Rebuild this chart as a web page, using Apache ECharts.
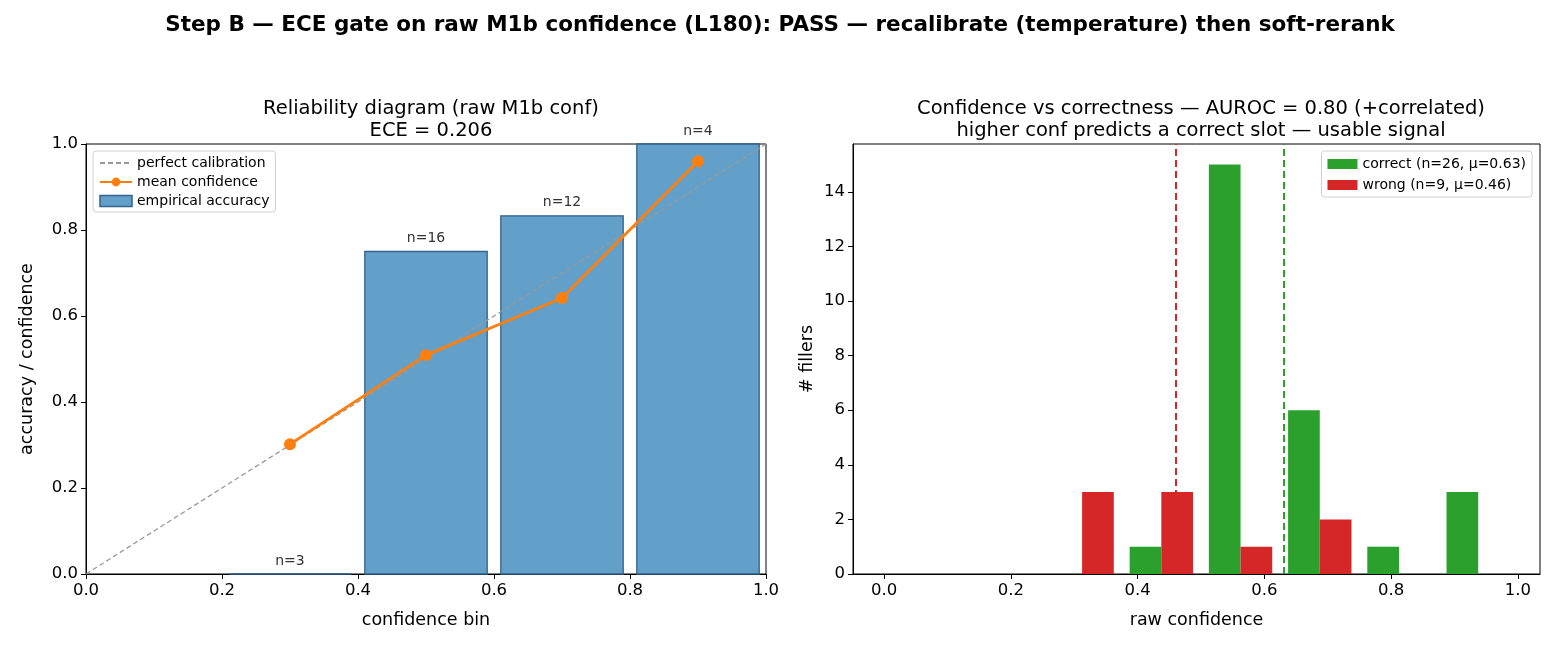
<!DOCTYPE html>
<html>
<head>
<meta charset="utf-8">
<script src="https://cdn.jsdelivr.net/npm/echarts@6/dist/echarts.min.js"></script>
<style>
  html, body { margin: 0; padding: 0; background: #fff; }
  #main { width: 1560px; height: 650px; }
</style>
</head>
<body>
<div id="main"></div>
<script>
// reliability diagram (left)
var binCenters = [0.3, 0.5, 0.7, 0.9];
var accuracy = [0.0, 0.75, 0.833, 1.0];
var meanConf = [0.302, 0.509, 0.642, 0.96];
var binCounts = [3, 16, 12, 4];
var diag = [0, 1];

// confidence histogram (right)
var histEdges = [0, 0.125, 0.25, 0.375, 0.5, 0.625, 0.75, 0.875, 1.0];
var correctCounts = [0, 0, 0, 1, 15, 6, 1, 3];
var wrongCounts = [0, 0, 3, 3, 1, 2, 0, 0];
var meanCorrect = 0.633;
var meanWrong = 0.462;
var ticks01 = [0, 0.2, 0.4, 0.6, 0.8, 1.0];

var FONT = 'DejaVu Sans';
var GREEN = '#2ca02c', RED = '#d62728', ORANGE = '#ff7f0e';
var BAR_FILL = '#62a0ca', BAR_EDGE = '#33628a';

var myChart = echarts.init(document.getElementById('main'));

function histSeries(name, counts, color, side, mu) {
  var data = [];
  for (var i = 0; i < counts.length; i++) {
    var c = (histEdges[i] + histEdges[i + 1]) / 2;
    data.push([c, counts[i]]);
  }
  return {
    name: name,
    type: 'custom',
    xAxisIndex: 1, yAxisIndex: 1,
    itemStyle: { color: color },
    renderItem: function (params, api) {
      var c = api.value(0), n = api.value(1);
      if (!n) return null;
      var w = (histEdges[1] - histEdges[0]) * 0.4;  // two bars fill 80% of the bin
      var xa = side < 0 ? c - w : c;
      var p0 = api.coord([xa, n]);
      var p1 = api.coord([xa + w, 0]);
      return {
        type: 'rect',
        shape: { x: p0[0], y: p0[1], width: p1[0] - p0[0], height: p1[1] - p0[1] },
        style: { fill: color }
      };
    },
    data: data,
    markLine: {
      silent: true,
      symbol: ['none', 'none'],
      label: { show: false },
      lineStyle: { color: color, type: [7, 4], width: 2 },
      data: [{ xAxis: mu }]
    }
  };
}

var axisCommon = {
  axisLine: { show: true, onZero: false, lineStyle: { color: '#000', width: 1 } },
  axisTick: { show: true, length: 5, lineStyle: { color: '#000' } },
  axisLabel: { color: '#000', fontSize: 16.5, margin: 8, fontFamily: FONT },
  splitLine: { show: false },
  nameTextStyle: { color: '#000', fontSize: 17.5, fontFamily: FONT }
};

var option = {
  backgroundColor: '#fff',
  animation: false,
  textStyle: { fontFamily: FONT },
  title: [
    {
      text: 'Step B — ECE gate on raw M1b confidence (L180): PASS — recalibrate (temperature) then soft-rerank',
      left: 'center', top: 9,
      textStyle: { fontSize: 21.5, fontWeight: 'bold', color: '#000', fontFamily: FONT }
    },
    {
      text: 'Reliability diagram (raw M1b conf)\nECE = 0.206',
      left: 426, top: 93, textAlign: 'center',
      textStyle: { fontSize: 19.5, fontWeight: 'normal', color: '#000', lineHeight: 22, fontFamily: FONT }
    },
    {
      text: 'Confidence vs correctness — AUROC = 0.80 (+correlated)\nhigher conf predicts a correct slot — usable signal',
      left: 1196, top: 93, textAlign: 'center',
      textStyle: { fontSize: 19.5, fontWeight: 'normal', color: '#000', lineHeight: 22, fontFamily: FONT }
    }
  ],
  legend: [
    {
      orient: 'vertical', left: 93, top: 151,
      backgroundColor: '#fff', borderColor: '#d0d0d0', borderWidth: 1, borderRadius: 3,
      padding: [5, 6, 4, 6], itemGap: 5, itemWidth: 32, itemHeight: 11,
      textStyle: { fontSize: 14, color: '#000', fontFamily: FONT },
      data: [
        { name: 'perfect calibration', itemStyle: { color: 'rgba(0,0,0,0)', borderWidth: 0 } },
        { name: 'mean confidence' },
        { name: 'empirical accuracy', icon: 'rect', itemStyle: { color: BAR_FILL, borderColor: BAR_EDGE, borderWidth: 1.5 } }
      ]
    },
    {
      orient: 'vertical', right: 28, top: 151,
      backgroundColor: '#fff', borderColor: '#d0d0d0', borderWidth: 1, borderRadius: 3,
      padding: [6, 6, 5, 6], itemGap: 7, itemWidth: 30, itemHeight: 10,
      textStyle: { fontSize: 14, color: '#000', fontFamily: FONT },
      data: [
        { name: 'correct (n=26, μ=0.63)', icon: 'rect' },
        { name: 'wrong (n=9, μ=0.46)', icon: 'rect' }
      ]
    }
  ],
  grid: [
    { left: 86, right: 794, top: 144, bottom: 76, show: true, borderColor: '#000', borderWidth: 1 },
    { left: 853, right: 20, top: 144, bottom: 76, show: true, borderColor: '#000', borderWidth: 1 }
  ],
  xAxis: [
    Object.assign({}, axisCommon, {
      type: 'value', gridIndex: 0, min: 0, max: 1, interval: 0.2,
      name: 'confidence bin', nameLocation: 'middle', nameGap: 37,
      axisLabel: Object.assign({}, axisCommon.axisLabel, { formatter: function (v) { return v.toFixed(1); } })
    }),
    Object.assign({}, axisCommon, {
      type: 'value', gridIndex: 1, min: -0.049, max: 1.035,
      name: 'raw confidence', nameLocation: 'middle', nameGap: 37,
      axisTick: Object.assign({}, axisCommon.axisTick, { customValues: ticks01 }),
      axisLabel: Object.assign({}, axisCommon.axisLabel, {
        customValues: ticks01,
        formatter: function (v) { return v.toFixed(1); }
      })
    })
  ],
  yAxis: [
    Object.assign({}, axisCommon, {
      type: 'value', gridIndex: 0, min: 0, max: 1, interval: 0.2,
      name: 'accuracy / confidence', nameLocation: 'middle', nameGap: 50,
      axisLabel: Object.assign({}, axisCommon.axisLabel, { formatter: function (v) { return v.toFixed(1); } })
    }),
    Object.assign({}, axisCommon, {
      type: 'value', gridIndex: 1, min: 0, max: 15.75, interval: 2,
      name: '# fillers', nameLocation: 'middle', nameGap: 37,
      axisLabel: Object.assign({}, axisCommon.axisLabel, { showMaxLabel: false })
    })
  ],
  series: [
    {
      name: 'empirical accuracy',
      type: 'custom',
      xAxisIndex: 0, yAxisIndex: 0,
      itemStyle: { color: BAR_FILL, borderColor: BAR_EDGE },
      renderItem: function (params, api) {
        var c = api.value(0), acc = api.value(1), n = api.value(2);
        var p0 = api.coord([c - 0.09, acc]);
        var p1 = api.coord([c + 0.09, 0]);
        return {
          type: 'group',
          children: [
            {
              type: 'rect',
              shape: { x: p0[0], y: p0[1], width: p1[0] - p0[0], height: p1[1] - p0[1] },
              style: { fill: BAR_FILL, stroke: BAR_EDGE, lineWidth: 1.3 }
            },
            {
              type: 'text',
              x: (p0[0] + p1[0]) / 2, y: p0[1] - 6,
              style: { text: 'n=' + n, fill: '#333', fontSize: 14, fontFamily: FONT, align: 'center', verticalAlign: 'bottom' }
            }
          ]
        };
      },
      data: binCenters.map(function (c, i) { return [c, accuracy[i], binCounts[i]]; }),
      z: 1
    },
    {
      name: 'perfect calibration',
      type: 'line',
      xAxisIndex: 0, yAxisIndex: 0,
      symbol: 'none',
      lineStyle: { color: '#999', width: 1.3, type: [5, 3] },
      itemStyle: { color: '#999' },
      data: diag.map(function (v) { return [v, v]; }),
      z: 3
    },
    {
      name: 'mean confidence',
      type: 'line',
      xAxisIndex: 0, yAxisIndex: 0,
      symbol: 'circle', symbolSize: 12,
      lineStyle: { color: ORANGE, width: 2.8 },
      itemStyle: { color: ORANGE },
      data: binCenters.map(function (c, i) { return [c, meanConf[i]]; }),
      z: 4
    },
    histSeries('correct (n=26, μ=0.63)', correctCounts, GREEN, -1, meanCorrect),
    histSeries('wrong (n=9, μ=0.46)', wrongCounts, RED, 1, meanWrong)
  ]
};

myChart.setOption(option);
</script>
</body>
</html>
